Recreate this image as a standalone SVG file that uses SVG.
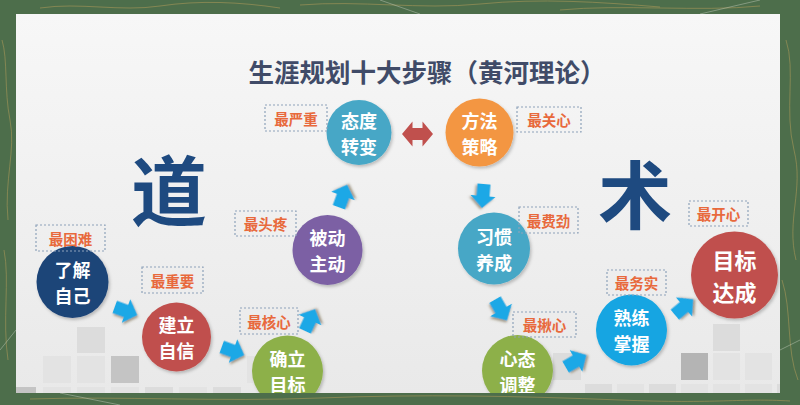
<svg xmlns="http://www.w3.org/2000/svg" width="800" height="405" viewBox="0 0 800 405">
<defs>
<linearGradient id="slideGrad" x1="0" y1="0" x2="0" y2="1">
<stop offset="0" stop-color="#f7f7f7"/>
<stop offset="1" stop-color="#e9e9e9"/>
</linearGradient>
<clipPath id="slideClip"><rect x="16" y="14" width="764" height="379"/></clipPath>
<filter id="cshadow" x="-20%" y="-20%" width="150%" height="150%">
<feDropShadow dx="1.5" dy="2" stdDeviation="1.5" flood-color="#000" flood-opacity="0.22"/>
</filter>
<filter id="ashadow" x="-30%" y="-30%" width="170%" height="170%">
<feDropShadow dx="1.5" dy="1.5" stdDeviation="0.8" flood-color="#6b5a3a" flood-opacity="0.6"/>
</filter>
<path id="barrow" d="M-12,-6.5 L0,-6.5 L0,-12.5 L12,0 L0,12.5 L0,6.5 L-12,6.5 Z"/>
<style>
.ctext{font-family:"Noto Sans CJK SC","Noto Sans",sans-serif;font-weight:bold;fill:#ffffff;text-anchor:middle;dominant-baseline:central;font-size:18px;}
.big{font-size:22px;}
.lbl{font-family:"Noto Sans CJK SC","Noto Sans",sans-serif;font-weight:bold;fill:#e8693c;font-size:14.5px;text-anchor:middle;dominant-baseline:central;}
.lbox{fill:none;stroke:#8ea2b9;stroke-width:1.2;stroke-dasharray:2 2;}
.arr{fill:#1ca8e6;filter:url(#ashadow);}
.sq1{fill:#dcdcdc;}
.sq2{fill:#e3e3e3;}
.sq3{fill:#c4c4c4;}
.sq4{fill:#b4b4b4;}
.gold{fill:none;stroke:#b09a5a;stroke-width:1;opacity:0.55;}
.thin{fill:none;stroke:#d8ddd0;stroke-width:0.8;opacity:0.5;}
</style>
</defs>

<!-- background -->
<rect x="0" y="0" width="800" height="405" fill="#4d6e4b"/>
<g id="bg-deco">
<path class="gold" d="M40,8 C80,2 120,12 160,6 S240,2 280,8"/>
<path class="gold" d="M300,5 C360,0 420,10 480,4 S600,2 660,7"/>
<path class="gold" d="M560,10 C620,4 700,12 760,6"/>
<path class="gold" d="M2,40 C8,60 4,90 10,120 S4,180 8,220"/>
<path class="gold" d="M4,250 C10,280 2,320 8,360"/>
<path class="gold" d="M786,40 C796,70 784,110 794,150 S786,220 796,260"/>
<path class="gold" d="M782,280 C792,310 786,350 798,380"/>
<path class="gold" d="M30,399 C120,396 220,402 320,398 S520,396 620,400 S740,398 790,401"/>
<path class="thin" d="M0,350 L16,330"/>
<path class="thin" d="M780,350 L800,340"/>
<path class="thin" d="M380,0 L420,14"/>
<path class="thin" d="M700,14 L760,0"/>
<path class="thin" d="M60,393 L120,405"/>
</g>

<!-- slide -->
<g clip-path="url(#slideClip)">
<rect x="16" y="14" width="764" height="379" fill="url(#slideGrad)"/>

<g id="squares">
<rect class="sq1" x="77" y="327" width="28" height="26"/>
<rect class="sq2" x="43" y="356" width="28" height="27"/>
<rect class="sq2" x="77" y="356" width="28" height="27"/>
<rect class="sq3" x="111" y="356" width="28" height="27"/>
<rect class="sq3" x="16" y="387" width="20" height="6"/>
<rect class="sq2" x="43" y="387" width="28" height="6"/>
<rect class="sq2" x="77" y="387" width="28" height="6"/>
<rect class="sq2" x="111" y="387" width="28" height="6"/>
<rect class="sq1" x="145" y="387" width="28" height="6"/>
<rect class="sq2" x="179" y="387" width="28" height="6"/>
<rect class="sq1" x="213" y="387" width="28" height="6"/>
<rect class="sq2" x="247" y="356" width="28" height="27"/>
<rect class="sq1" x="553" y="353" width="28" height="27"/>
<rect class="sq1" x="585" y="384" width="27" height="9"/>
<rect class="sq2" x="617" y="384" width="27" height="9"/>
<rect class="sq1" x="649" y="384" width="27" height="9"/>
<rect class="sq2" x="681" y="384" width="27" height="9"/>
<rect class="sq2" x="713" y="384" width="27" height="9"/>
<rect class="sq2" x="745" y="384" width="27" height="9"/>
<rect class="sq1" x="777" y="384" width="3" height="9"/>
<rect class="sq1" x="713" y="324" width="27" height="27"/>
<rect class="sq4" x="681" y="353" width="27" height="27"/>
<rect class="sq2" x="713" y="353" width="27" height="27"/>
<rect class="sq2" x="745" y="353" width="27" height="27"/>
</g>

<text id="title" x="427" y="70" font-family="'Noto Sans CJK SC','Noto Sans',sans-serif" font-weight="bold" font-size="25.5" fill="#404b68" text-anchor="middle" dominant-baseline="central">生涯规划十大步骤（黄河理论）</text>
<text id="dao" x="169" y="187" font-family="'Noto Sans CJK SC','Noto Sans',sans-serif" font-weight="bold" font-size="76" fill="#1e4a80" text-anchor="middle" dominant-baseline="central">道</text>
<text id="shu" x="635" y="190" font-family="'Noto Sans CJK SC','Noto Sans',sans-serif" font-weight="bold" font-size="74" fill="#1e4a80" text-anchor="middle" dominant-baseline="central">术</text>

<g id="connectors">
<use href="#barrow" class="arr" transform="translate(126,311) rotate(20)"/>
<use href="#barrow" class="arr" transform="translate(233,351) rotate(20)"/>
<use href="#barrow" class="arr" transform="translate(310,320) rotate(-65)"/>
<use href="#barrow" class="arr" transform="translate(343,196) rotate(-70)"/>
<path d="M-15.5,0 L-5,-12.5 L-5,-6 L5,-6 L5,-12.5 L15.5,0 L5,12.5 L5,6 L-5,6 L-5,12.5 Z" fill="#c0504d" transform="translate(417.5,134)"/>
<use href="#barrow" class="arr" transform="translate(483,196) rotate(95)"/>
<use href="#barrow" class="arr" transform="translate(501,310) rotate(60)"/>
<use href="#barrow" class="arr" transform="translate(576,361) rotate(-30)"/>
<use href="#barrow" class="arr" transform="translate(684,307) rotate(-40)"/>
</g>

<g id="step1">
<circle cx="72.5" cy="282" r="36" fill="#1f4478" filter="url(#cshadow)"/>
<text class="ctext" x="72.5" y="269">了解</text>
<text class="ctext" x="72.5" y="295.2">自己</text>
<rect class="lbox" x="36" y="225" width="69" height="26"/>
<text class="lbl" x="70.5" y="238">最困难</text>
</g>

<g id="step2">
<circle cx="176.5" cy="337" r="34.5" fill="#c0504d" filter="url(#cshadow)"/>
<text class="ctext" x="176.5" y="324">建立</text>
<text class="ctext" x="176.5" y="350.2">自信</text>
<rect class="lbox" x="142" y="267" width="61" height="26"/>
<text class="lbl" x="172.5" y="280">最重要</text>
</g>

<g id="step3">
<circle cx="287.5" cy="371" r="35.5" fill="#8db04a" filter="url(#cshadow)"/>
<text class="ctext" x="287.5" y="358">确立</text>
<text class="ctext" x="287.5" y="384.2">目标</text>
<rect class="lbox" x="240" y="308" width="58" height="26"/>
<text class="lbl" x="269" y="321">最核心</text>
</g>

<g id="step4">
<circle cx="327.5" cy="250" r="35" fill="#7b61a4" filter="url(#cshadow)"/>
<text class="ctext" x="327.5" y="237">被动</text>
<text class="ctext" x="327.5" y="263.2">主动</text>
<rect class="lbox" x="235" y="211" width="61" height="25"/>
<text class="lbl" x="265.5" y="223.5">最头疼</text>
</g>

<g id="step5">
<circle cx="359" cy="132.5" r="32.5" fill="#47a7c6" filter="url(#cshadow)"/>
<text class="ctext" x="359" y="119.5">态度</text>
<text class="ctext" x="359" y="145.7">转变</text>
<rect class="lbox" x="265" y="105" width="62" height="26"/>
<text class="lbl" x="296" y="118">最严重</text>
</g>

<g id="step6">
<circle cx="479.5" cy="132.5" r="34" fill="#f39643" filter="url(#cshadow)"/>
<text class="ctext" x="479.5" y="119.5">方法</text>
<text class="ctext" x="479.5" y="145.7">策略</text>
<rect class="lbox" x="517" y="107" width="64" height="25"/>
<text class="lbl" x="549" y="119.5">最关心</text>
</g>

<g id="step7">
<circle cx="494" cy="248.5" r="36" fill="#47a7c6" filter="url(#cshadow)"/>
<text class="ctext" x="494" y="235.5">习惯</text>
<text class="ctext" x="494" y="261.7">养成</text>
<rect class="lbox" x="519" y="207" width="59" height="26"/>
<text class="lbl" x="548.5" y="220">最费劲</text>
</g>

<g id="step8">
<circle cx="517.5" cy="370.5" r="35.5" fill="#8db04a" filter="url(#cshadow)"/>
<text class="ctext" x="517.5" y="357.5">心态</text>
<text class="ctext" x="517.5" y="383.7">调整</text>
<rect class="lbox" x="513" y="312" width="63" height="25"/>
<text class="lbl" x="544.5" y="324.5">最揪心</text>
</g>

<g id="step9">
<circle cx="631.5" cy="330" r="35.5" fill="#14a5e2" filter="url(#cshadow)"/>
<text class="ctext" x="631.5" y="317">熟练</text>
<text class="ctext" x="631.5" y="343.2">掌握</text>
<rect class="lbox" x="607" y="270" width="59" height="25"/>
<text class="lbl" x="636.5" y="282.5">最务实</text>
</g>

<g id="step10">
<circle cx="734.5" cy="275" r="43.5" fill="#c0504d" filter="url(#cshadow)"/>
<text class="ctext big" x="734.5" y="259">目标</text>
<text class="ctext big" x="734.5" y="291">达成</text>
<rect class="lbox" x="689" y="201" width="59" height="25"/>
<text class="lbl" x="718.5" y="213.5">最开心</text>
</g>
</g>
</svg>
